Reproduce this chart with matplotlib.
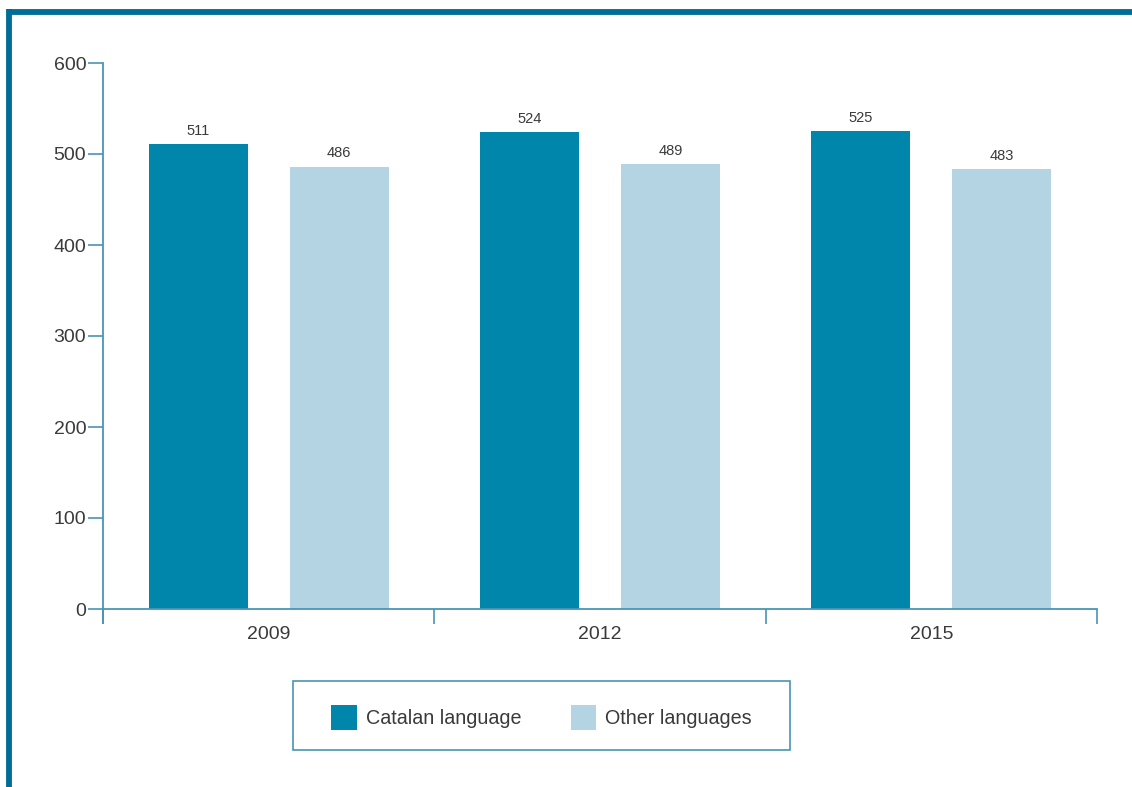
import matplotlib
matplotlib.use("Agg")
import matplotlib.pyplot as plt
from matplotlib.patches import Patch, Rectangle
from matplotlib.lines import Line2D

years = ["2009", "2012", "2015"]
catalan = [511, 524, 525]
other = [486, 489, 483]
series_names = ["Catalan language", "Other languages"]

plt.rcParams['font.family'] = ['Liberation Sans', 'DejaVu Sans']

W, H = 1132, 787
fig = plt.figure(figsize=(W / 100, H / 100), dpi=100)

c_cat = "#0086ab"
c_oth = "#b4d4e3"
axc = "#4a95b4"
txt = "#3a3a3a"
border = "#006d96"

# frame border (top and left)
fig.add_artist(Line2D([8.5 / W, 1], [1 - 11.5 / H, 1 - 11.5 / H], color=border, lw=4.2,
                      solid_capstyle="butt", transform=fig.transFigure))
fig.add_artist(Line2D([8.5 / W, 8.5 / W], [0, 1 - 9.4 / H], color=border, lw=4.2,
                      solid_capstyle="butt", transform=fig.transFigure))

left, right = 103 / W, 1097 / W
bottom, top = 1 - 609 / H, 1 - 63 / H
ax = fig.add_axes([left, bottom, right - left, top - bottom])

x = list(range(len(years)))
bw = 0.299
off = 0.213
b1 = ax.bar([i - off for i in x], catalan, bw, color=c_cat, zorder=2)
b2 = ax.bar([i + off for i in x], other, bw, color=c_oth, zorder=2)

for bars, vals in ((b1, catalan), (b2, other)):
    for b, v in zip(bars, vals):
        ax.annotate(str(v), (b.get_x() + b.get_width() / 2, v), xytext=(0, 4.5),
                    textcoords="offset points", ha="center", va="bottom",
                    fontsize=10.5, color=txt)

ax.set_xlim(-0.5, len(years) - 0.5)
ax.set_ylim(0, 600)
ax.set_yticks([0, 100, 200, 300, 400, 500, 600])
ax.set_xticks([i - 0.5 for i in range(len(years) + 1)])
ax.set_xticklabels([])
ax.set_xticks(x, minor=True)
ax.set_xticklabels(years, minor=True)
ax.tick_params(axis="x", which="major", direction="out", length=11, width=1.2, color=axc)
ax.tick_params(axis="x", which="minor", length=0, pad=12, labelsize=14, labelcolor=txt)
ax.tick_params(axis="y", direction="out", length=11, width=1.2, color=axc,
               labelsize=14, labelcolor=txt, pad=1)

for s in ("top", "right"):
    ax.spines[s].set_visible(False)
for s in ("left", "bottom"):
    ax.spines[s].set_color(axc)
    ax.spines[s].set_linewidth(1.3)

# extend y axis below 0 (like reference)
fig.add_artist(Line2D([left, left], [1 - 623 / H, bottom], color=axc, lw=1.3,
                      transform=fig.transFigure))

# legend box
lx0, ly0, lx1, ly1 = 293 / W, 1 - 750 / H, 790 / W, 1 - 681 / H
fig.add_artist(Rectangle((lx0, ly0), lx1 - lx0, ly1 - ly0, transform=fig.transFigure,
                         facecolor="white", edgecolor=axc, lw=1.2))

handles = [Patch(facecolor=c_cat, edgecolor="none"), Patch(facecolor=c_oth, edgecolor="none")]
leg = fig.legend(handles, series_names, loc="center",
                 bbox_to_anchor=((lx0 + lx1) / 2, (ly0 + ly1) / 2 - 2 / H),
                 ncol=2, frameon=False, fontsize=14.2,
                 handlelength=1.3, handleheight=1.6, handletextpad=0.45,
                 columnspacing=2.5, labelcolor=txt)

fig.savefig("out.png", dpi=100)
